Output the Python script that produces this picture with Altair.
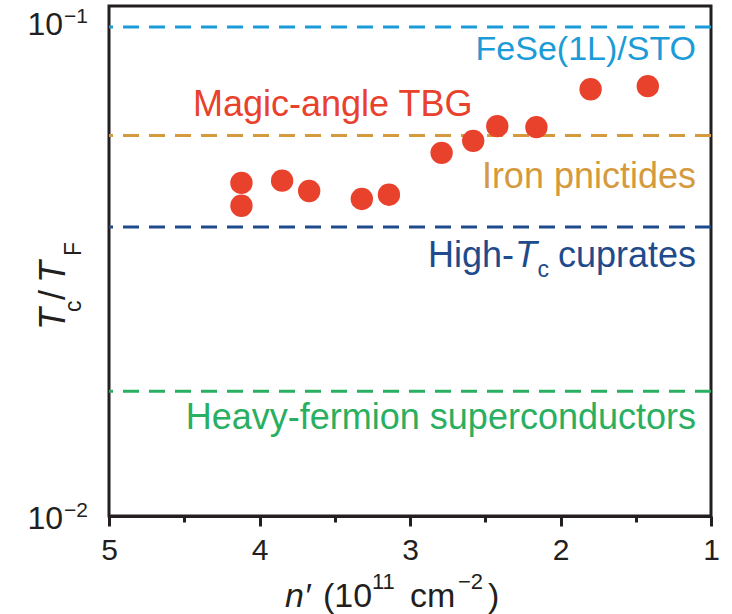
import altair as alt
import pandas as pd

# ---------------- data ----------------
n_density = [4.12, 4.12, 3.85, 3.67, 3.32, 3.14, 2.79, 2.58, 2.42, 2.16, 1.80, 1.42]
tc_over_tf = [0.0480, 0.0431, 0.0485, 0.0462, 0.0445, 0.0454, 0.0553, 0.0585,
              0.0627, 0.0624, 0.0746, 0.0757]

ref_names = ["FeSe(1L)/STO", "Iron pnictides", "High-Tc cuprates", "Heavy-fermion superconductors"]
ref_values = [0.1, 0.06, 0.039, 0.018]
ref_colors = ["#1B9BD7", "#D49A3D", "#1F4B8C", "#29AF62"]

x_ticks = [1, 1.5, 2, 2.5, 3, 3.5, 4, 4.5, 5]
y_ticks = [0.01, 0.02, 0.03, 0.04, 0.05, 0.06, 0.07, 0.08, 0.09, 0.1]
y_major = [0.1, 0.01]
y_major_exp = ["\u22121", "\u22122"]

INK = "#231F20"
RED = "#E8412C"
FONT = "Liberation Sans"

pts = pd.DataFrame({"n": n_density, "r": tc_over_tf})
refs = pd.DataFrame({"name": ref_names, "v": ref_values, "c": ref_colors})

xscale = alt.Scale(domain=[1, 5], reverse=True, nice=False, zero=False)
yscale = alt.Scale(type="log", domain=[0.01, 0.1104], nice=False)

yaxis = alt.Axis(
    values=y_ticks, labels=False, title=None, grid=False,
    domainColor=INK, domainWidth=3, tickColor=INK, tickWidth=3,
    tickSize={"condition": {"test": "datum.value >= 0.095 || datum.value <= 0.0105", "value": 13}, "value": 7},
)
xaxis = alt.Axis(
    values=x_ticks, title=None, grid=False, labelFlush=False, labelOverlap=False,
    labelExpr="datum.value % 1 === 0 ? format(datum.value, 'd') : ''",
    labelFont=FONT, labelFontSize=30, labelColor=INK, labelPadding=9,
    domainColor=INK, domainWidth=3, tickColor=INK, tickWidth=3,
    tickSize={"condition": {"test": "datum.value % 1 === 0", "value": 10}, "value": 6},
)

rules = alt.Chart(refs).mark_rule(strokeDash=[16, 10], strokeWidth=3).encode(
    y=alt.Y("v:Q", scale=yscale, axis=yaxis),
    color=alt.Color("c:N", scale=None),
)

points = alt.Chart(pts).mark_circle(size=500, opacity=1, color=RED).encode(
    x=alt.X("n:Q", scale=xscale, axis=xaxis),
    y=alt.Y("r:Q", scale=yscale, axis=yaxis),
)

ONE = alt.Data(values=[{"k": 0}])


def txt(text, x, y, size, color=INK, italic=False, align="left", angle=0):
    kw = dict(text=text, font=FONT, fontSize=size, color=color, align=align,
              baseline="alphabetic")
    if italic:
        kw["fontStyle"] = "italic"
    if angle:
        kw["angle"] = angle
    return alt.Chart(ONE).mark_text(**kw).encode(x=alt.value(x), y=alt.value(y))


AS = 36  # annotation font size
annotations = [
    txt("FeSe(1L)/STO", 587, 54, 34, ref_colors[0], align="right"),
    txt("Magic-angle TBG", 84, 110, AS, RED),
    txt("Iron pnictides", 587, 182, AS, ref_colors[1], align="right"),
    txt("cuprates", 587, 261, AS, ref_colors[2], align="right"),
    txt("c", 440, 271, 23, ref_colors[2], align="right"),
    txt("T", 428, 261, AS, ref_colors[2], italic=True, align="right"),
    txt("High-", 405, 261, AS, ref_colors[2], align="right"),
    txt("Heavy-fermion superconductors", 587, 423, AS, ref_colors[3], align="right"),
]

# y-axis title  T_c / T_F (rotated)
ytitle = [
    txt("T", -44, 324, 36, italic=True, angle=270),
    txt("c", -28, 306, 23, angle=270),
    txt("/", -44, 294, 36, angle=270),
    txt("T", -44, 277, 36, italic=True, angle=270),
    txt("F", -28, 250, 23, angle=270),
]

# x-axis title  n′ (10^11 cm^−2)
xtitle = [
    txt("n\u2032", 176, 601, 34, italic=True),
    txt("(10", 214, 601, 34),
    txt("11", 263, 583, 22),
    txt("cm", 301, 601, 34),
    txt("\u22122", 349, 583, 22),
    txt(")", 379, 601, 34),
]

# y tick labels 10^-1, 10^-2
ylabels = []
for v, e, dy_base, dy_exp in zip(y_major, y_major_exp, [8, 13], [-4, 1]):
    d = pd.DataFrame({"v": [v], "e": [e]})
    ylabels.append(alt.Chart(d).mark_text(
        text="10", font=FONT, fontSize=32, color=INK, align="right",
        baseline="alphabetic", dy=dy_base
    ).encode(x=alt.value(-46), y=alt.Y("v:Q", scale=yscale, axis=None)))
    ylabels.append(alt.Chart(d).mark_text(
        font=FONT, fontSize=21, color=INK, align="left", baseline="alphabetic", dy=dy_exp
    ).encode(x=alt.value(-45), y=alt.Y("v:Q", scale=yscale, axis=None), text="e:N"))

chart = alt.layer(
    rules, points, *annotations, *ytitle, *xtitle, *ylabels
).properties(
    width=602, height=510,
    padding={"left": 109, "top": 6, "right": 21, "bottom": 98},
    autosize=alt.AutoSizeParams(type="none"),
    background="white",
).configure_view(stroke=INK, strokeWidth=3)

chart.save("out.html", embed_options={"renderer": "svg", "actions": False})
